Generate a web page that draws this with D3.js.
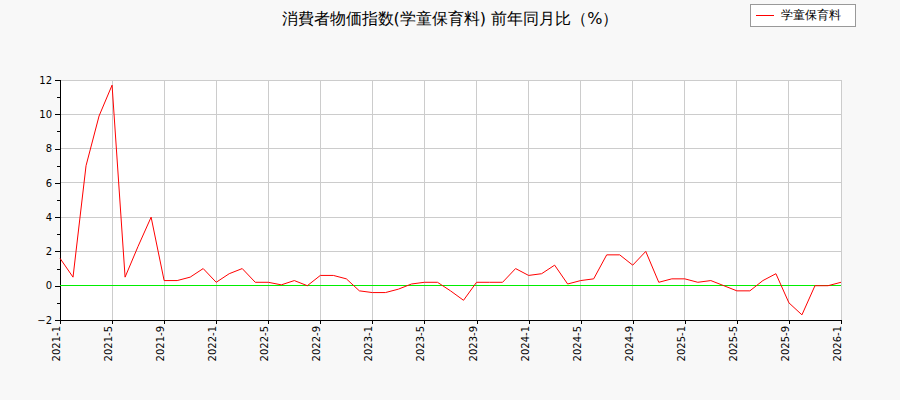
<!DOCTYPE html><html><head><meta charset="utf-8"><script src="https://cdn.jsdelivr.net/npm/d3@7"></script>
<style>body{margin:0;background:#f8f8f8}text{font-family:"DejaVu Sans",sans-serif}</style></head><body><svg id="c" width="900" height="400"></svg><script>
const title="消費者物価指数(学童保育料) 前年同月比（%）";
const seriesName="学童保育料";
const startYear=2021;
const values=[1.6,0.5,7.0,9.9,11.7,0.5,2.3,4.0,0.3,0.3,0.5,1.0,
0.2,0.7,1.0,0.2,0.2,0.05,0.3,0.0,0.6,0.6,0.4,-0.3,
-0.4,-0.4,-0.2,0.1,0.2,0.2,-0.3,-0.85,0.2,0.2,0.2,1.0,
0.6,0.7,1.2,0.1,0.3,0.4,1.8,1.8,1.2,2.0,0.2,0.4,
0.4,0.2,0.3,0.0,-0.3,-0.3,0.3,0.7,-1.0,-1.7,0.0,0.0,0.2];
const yTicks=[-2,0,2,4,6,8,10,12];
const svg=d3.select("#c").attr("shape-rendering","crispEdges");
const L=60,R=841,T=80,B=320;
const x=d3.scaleLinear().domain([0,60]).range([L,R]);
const y=d3.scaleLinear().domain([-2,12]).range([B,T]);
svg.append("rect").attr("x",L).attr("y",T).attr("width",R-L).attr("height",B-T).attr("fill","#fff");
const xt=d3.range(0,61,4);
const lab=i=>`${startYear+Math.floor(i/12)}-${i%12+1}`;
svg.append("g").selectAll("line").data(xt).join("line").attr("x1",d=>x(d)).attr("x2",d=>x(d)).attr("y1",T).attr("y2",B).attr("stroke","#ccc");
svg.append("g").selectAll("line").data(yTicks).join("line").attr("x1",L).attr("x2",R).attr("y1",d=>y(d)).attr("y2",d=>y(d)).attr("stroke","#ccc");
const ya=svg.append("g").attr("transform",`translate(${L},0)`).call(d3.axisLeft(y).tickValues(yTicks).tickSize(5).tickFormat(d3.format("d")));
svg.append("g").attr("transform",`translate(${L},0)`).call(d3.axisLeft(y).tickValues(d3.range(-1,12,2)).tickSize(3).tickFormat(""));
const xa=svg.append("g").attr("transform",`translate(0,${B})`).call(d3.axisBottom(x).tickValues(xt).tickSize(4).tickFormat(lab));
xa.selectAll("text").attr("transform","rotate(-90)").attr("text-anchor","end").attr("x",-6).attr("y",-4).attr("dy","0.35em");
[ya,xa].forEach(a=>{a.selectAll("text").attr("font-size",10).attr("fill","#000");a.selectAll("path,line").attr("stroke","#000");});
svg.append("line").attr("x1",L).attr("x2",R).attr("y1",y(0)).attr("y2",y(0)).attr("stroke","#00ee00");
svg.append("path").datum(values).attr("fill","none").attr("stroke","red").attr("stroke-width",1).attr("shape-rendering","auto")
 .attr("d",d3.line().x((d,i)=>x(i)).y(d=>y(d)));
svg.append("text").attr("x",450).attr("y",24).attr("text-anchor","middle").attr("font-size",16).text(title);
svg.append("rect").attr("x",750).attr("y",4).attr("width",105).attr("height",22).attr("fill","#fff").attr("stroke","#999");
svg.append("line").attr("x1",756).attr("x2",774).attr("y1",15).attr("y2",15).attr("stroke","red");
svg.append("text").attr("x",781).attr("y",19).attr("font-size",12).text(seriesName);
</script></body></html>
